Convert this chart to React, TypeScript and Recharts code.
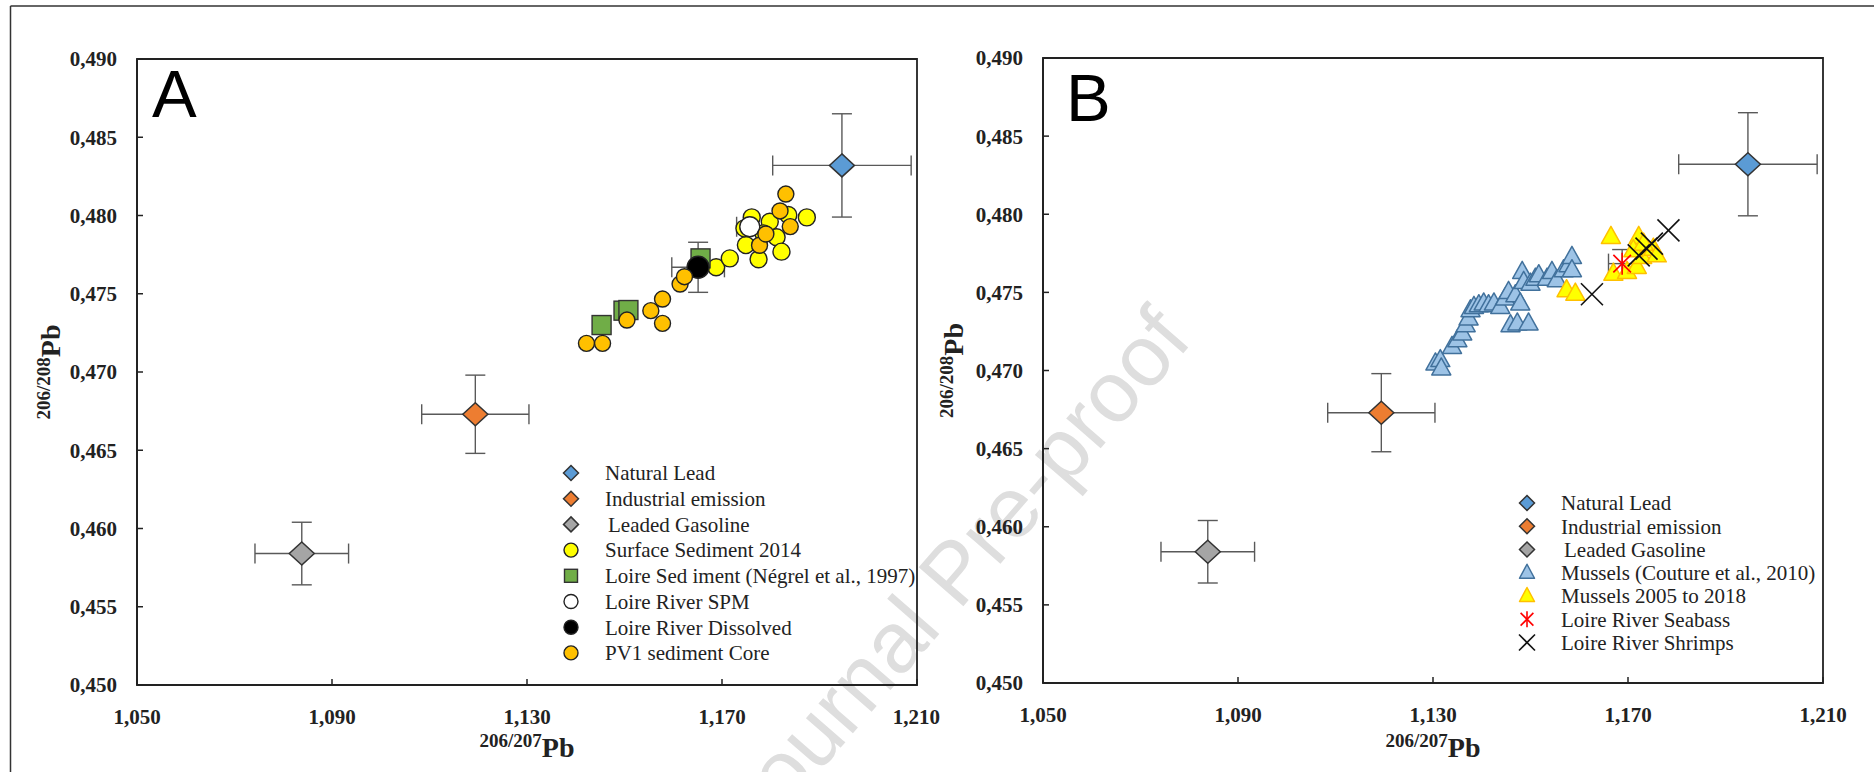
import React from "react";
import {
  ErrorBar,
  Legend,
  ReferenceArea,
  Scatter,
  ScatterChart,
  XAxis,
  YAxis,
} from "recharts";

/* -------------------------------------------------------------------------- */
/*  Data                                                                       */
/* -------------------------------------------------------------------------- */

type Pt = { x: number; y: number; ex?: number; ey?: number };

const X_TICKS = [1.05, 1.09, 1.13, 1.17, 1.21];
const Y_TICKS = [0.45, 0.455, 0.46, 0.465, 0.47, 0.475, 0.48, 0.485, 0.49];

// end-members (shared by both panels)
const naturalLead: Pt[] = [{ x: 1.1946, y: 0.4832, ex: 0.0142, ey: 0.0033 }];
const industrialEmission: Pt[] = [{ x: 1.1194, y: 0.4673, ex: 0.011, ey: 0.0025 }];
const leadedGasoline: Pt[] = [{ x: 1.0838, y: 0.4584, ex: 0.0096, ey: 0.002 }];

// panel A
const surfaceSediment2014: Pt[] = [
  { x: 1.1688, y: 0.47669 },
  { x: 1.1716, y: 0.47726 },
  { x: 1.1749, y: 0.47811 },
  { x: 1.1761, y: 0.47988 },
  { x: 1.1746, y: 0.47918 },
  { x: 1.1798, y: 0.4796 },
  { x: 1.1812, y: 0.47861 },
  { x: 1.1775, y: 0.4772 },
  { x: 1.1822, y: 0.47769 },
  { x: 1.1836, y: 0.48003 },
  { x: 1.1874, y: 0.47988 },
  { x: 1.1785, y: 0.47886 },
];

const loireSediment: Pt[] = [
  { x: 1.1453, y: 0.473 },
  { x: 1.1498, y: 0.47392 },
  { x: 1.1508, y: 0.47396 },
  { x: 1.1656, y: 0.47726 },
];

const loireSpm: Pt[] = [{ x: 1.1757, y: 0.47928, ex: 0.0027, ey: 0 }];
const loireDissolved: Pt[] = [{ x: 1.1651, y: 0.47669, ex: 0.0054, ey: 0.0016 }];

const pv1Core: Pt[] = [
  { x: 1.1422, y: 0.47183 },
  { x: 1.1455, y: 0.47183 },
  { x: 1.1505, y: 0.47332 },
  { x: 1.1554, y: 0.47392 },
  { x: 1.1578, y: 0.47466 },
  { x: 1.1578, y: 0.47311 },
  { x: 1.1614, y: 0.47562 },
  { x: 1.1623, y: 0.47609 },
  { x: 1.1777, y: 0.4781 },
  { x: 1.179, y: 0.47882 },
  { x: 1.1819, y: 0.48029 },
  { x: 1.1831, y: 0.48137 },
  { x: 1.184, y: 0.47929 },
];

// panel B
const musselsCouture: Pt[] = [
  { x: 1.1305, y: 0.47045 },
  { x: 1.1315, y: 0.47067 },
  { x: 1.1317, y: 0.47013 },
  { x: 1.1339, y: 0.47151 },
  { x: 1.135, y: 0.47194 },
  { x: 1.136, y: 0.47237 },
  { x: 1.1367, y: 0.4729 },
  { x: 1.1373, y: 0.47333 },
  { x: 1.1377, y: 0.47386 },
  { x: 1.1384, y: 0.47407 },
  { x: 1.1394, y: 0.47418 },
  { x: 1.1404, y: 0.47429 },
  { x: 1.1414, y: 0.47418 },
  { x: 1.1425, y: 0.47429 },
  { x: 1.1438, y: 0.47407 },
  { x: 1.1448, y: 0.47461 },
  { x: 1.1455, y: 0.47503 },
  { x: 1.1459, y: 0.4729 },
  { x: 1.1469, y: 0.47482 },
  { x: 1.1473, y: 0.47301 },
  { x: 1.1479, y: 0.47429 },
  { x: 1.1483, y: 0.47631 },
  { x: 1.1486, y: 0.47567 },
  { x: 1.1496, y: 0.47301 },
  { x: 1.15, y: 0.47556 },
  { x: 1.151, y: 0.47588 },
  { x: 1.1517, y: 0.4761 },
  { x: 1.1534, y: 0.47588 },
  { x: 1.1544, y: 0.47631 },
  { x: 1.1554, y: 0.47578 },
  { x: 1.1568, y: 0.47642 },
  { x: 1.1578, y: 0.47674 },
  { x: 1.1585, y: 0.47727 },
  { x: 1.1585, y: 0.47642 },
];

const mussels2005to2018: Pt[] = [
  { x: 1.1574, y: 0.47514 },
  { x: 1.1592, y: 0.47492 },
  { x: 1.1665, y: 0.47855 },
  { x: 1.167, y: 0.4762 },
  { x: 1.1698, y: 0.47631 },
  { x: 1.1722, y: 0.47855 },
  { x: 1.1718, y: 0.47663 },
  { x: 1.1729, y: 0.47727 },
  { x: 1.1752, y: 0.4778 },
  { x: 1.1759, y: 0.47737 },
  { x: 1.1711, y: 0.4777 },
  { x: 1.1732, y: 0.47812 },
];

const loireSeabass: Pt[] = [{ x: 1.1688, y: 0.47684, ex: 0.0028, ey: 0.0009 }];

const loireShrimps: Pt[] = [
  { x: 1.1626, y: 0.47488 },
  { x: 1.1722, y: 0.47737 },
  { x: 1.1738, y: 0.4778 },
  { x: 1.1749, y: 0.47812 },
  { x: 1.1783, y: 0.47897 },
];

/* -------------------------------------------------------------------------- */
/*  Marker shapes                                                              */
/* -------------------------------------------------------------------------- */

const SERIF = '"Liberation Serif", "Times New Roman", serif';
const SANS = '"Liberation Sans", Arial, sans-serif';
const INK = "#222";

type Marker = (cx: number, cy: number, small?: boolean) => React.ReactElement;

const diamond = (fill: string): Marker => (cx, cy, small) => {
  const r = small ? 7.5 : 12.5;
  const ry = small ? 7.5 : 11.5;
  return (
    <polygon
      points={`${cx},${cy - ry} ${cx + r},${cy} ${cx},${cy + ry} ${cx - r},${cy}`}
      fill={fill}
      stroke="#333"
      strokeWidth={1.5}
    />
  );
};

const circle = (fill: string, r: number): Marker => (cx, cy, small) => (
  <circle cx={cx} cy={cy} r={small ? 7 : r} fill={fill} stroke={INK} strokeWidth={1.4} />
);

const square = (fill: string): Marker => (cx, cy, small) => {
  const h = small ? 6.5 : 9.5;
  return (
    <rect x={cx - h} y={cy - h} width={2 * h} height={2 * h} fill={fill} stroke="#333" strokeWidth={1.4} />
  );
};

const triangle = (fill: string, stroke: string): Marker => (cx, cy, small) => {
  const w = small ? 7.5 : 9.5;
  const t = small ? 8.5 : 10.5;
  const b = small ? 5.5 : 6.5;
  return (
    <polygon
      points={`${cx},${cy - t} ${cx + w},${cy + b} ${cx - w},${cy + b}`}
      fill={fill}
      stroke={stroke}
      strokeWidth={1.5}
      strokeLinejoin="round"
    />
  );
};

const cross: Marker = (cx, cy, small) => {
  const h = small ? 8 : 11;
  return (
    <g stroke="#111" strokeWidth={1.6}>
      <line x1={cx - h} y1={cy - h} x2={cx + h} y2={cy + h} />
      <line x1={cx - h} y1={cy + h} x2={cx + h} y2={cy - h} />
    </g>
  );
};

const asterisk: Marker = (cx, cy, small) => {
  const h = small ? 8 : 11;
  const d = h * 0.8;
  return (
    <g stroke="#ff0000" strokeWidth={1.6}>
      <line x1={cx} y1={cy - h} x2={cx} y2={cy + h} />
      <line x1={cx - d} y1={cy - d} x2={cx + d} y2={cy + d} />
      <line x1={cx - d} y1={cy + d} x2={cx + d} y2={cy - d} />
    </g>
  );
};

type Series = {
  name: string;
  data: Pt[];
  marker: Marker;
  indent?: number;
};

const endMembers: Series[] = [
  { name: "Natural Lead", data: naturalLead, marker: diamond("#5b9bd5") },
  { name: "Industrial emission", data: industrialEmission, marker: diamond("#ed7d31") },
  { name: " Leaded Gasoline", data: leadedGasoline, marker: diamond("#a5a5a5"), indent: 3 },
];

const panelA: Series[] = [
  ...endMembers,
  { name: "Surface Sediment 2014", data: surfaceSediment2014, marker: circle("#ffff00", 8.5) },
  { name: "Loire Sed iment (Négrel et al., 1997)", data: loireSediment, marker: square("#70ad47") },
  { name: "Loire River SPM", data: loireSpm, marker: circle("#ffffff", 10) },
  { name: "Loire River Dissolved", data: loireDissolved, marker: circle("#000000", 11) },
  { name: "PV1 sediment Core", data: pv1Core, marker: circle("#ffc000", 8) },
];

const panelB: Series[] = [
  ...endMembers,
  { name: "Mussels (Couture et al., 2010)", data: musselsCouture, marker: triangle("#9dc3e6", "#41719c") },
  { name: "Mussels 2005 to 2018", data: mussels2005to2018, marker: triangle("#ffff00", "#ffc000") },
  { name: "Loire River Seabass", data: loireSeabass, marker: asterisk },
  { name: "Loire River Shrimps", data: loireShrimps, marker: cross },
];

/* -------------------------------------------------------------------------- */
/*  Panel                                                                      */
/* -------------------------------------------------------------------------- */

const fmt = (v: number) => v.toFixed(3).replace(".", ",");

function LegendBox({
  series,
  markerX,
  textX,
  firstY,
  step,
}: {
  series: Series[];
  markerX: number;
  textX: number;
  firstY: number;
  step: number;
}) {
  return (
    <svg width={360} height={firstY + step * series.length} style={{ overflow: "visible" }}>
      {series.map((s, i) => {
        const cy = firstY + i * step;
        return (
          <g key={s.name}>
            {s.marker(markerX, cy, true)}
            <text
              x={textX + (s.indent ?? 0)}
              y={cy}
              dy="0.35em"
              fontFamily={SERIF}
              fontSize={21}
              fill={INK}
            >
              {s.name.trim()}
            </text>
          </g>
        );
      })}
    </svg>
  );
}

function Panel({
  letter,
  letterDx,
  letterDy,
  series,
  width,
  margin,
  legendAt,
  legendStep,
  yTitleX,
}: {
  letter: string;
  letterDx: number;
  letterDy: number;
  series: Series[];
  width: number;
  margin: { top: number; right: number; bottom: number; left: number };
  legendAt: { left: number; top: number };
  legendStep: number;
  yTitleX: number;
}) {
  const plotLeft = margin.left + 60;
  const plotRight = width - margin.right;
  const plotTop = margin.top;
  const plotBottom = 772 - margin.bottom - 40;
  const midX = (plotLeft + plotRight) / 2;
  const midY = (plotTop + plotBottom) / 2;

  return (
    <ScatterChart width={width} height={772} margin={margin} style={{ fontFamily: SERIF }}>
      <ReferenceArea
        x1={1.05}
        x2={1.21}
        y1={0.45}
        y2={0.49}
        fill="none"
        fillOpacity={0}
        stroke={INK}
        strokeWidth={1.8}
      />
      <XAxis
        type="number"
        dataKey="x"
        domain={[1.05, 1.21]}
        ticks={X_TICKS}
        tickFormatter={fmt}
        height={40}
        tickSize={-6}
        tickMargin={30}
        allowDataOverflow
        axisLine={{ stroke: INK, strokeWidth: 1.8 }}
        tickLine={{ stroke: INK, strokeWidth: 1.5 }}
        tick={{ fill: INK, fontSize: 21, fontWeight: "bold", fontFamily: SERIF }}
      />
      <YAxis
        type="number"
        dataKey="y"
        domain={[0.45, 0.49]}
        ticks={Y_TICKS}
        tickFormatter={fmt}
        width={60}
        tickSize={-6}
        tickMargin={26}
        allowDataOverflow
        axisLine={{ stroke: INK, strokeWidth: 1.8 }}
        tickLine={{ stroke: INK, strokeWidth: 1.5 }}
        tick={{ fill: INK, fontSize: 21, fontWeight: "bold", fontFamily: SERIF }}
      />
      {series.map((s) => (
        <Scatter
          key={s.name}
          name={s.name}
          data={s.data}
          isAnimationActive={false}
          shape={(p: any) => s.marker(p.cx, p.cy)}
        >
          {s.data[0].ex !== undefined && (
            <ErrorBar dataKey="ex" direction="x" width={10} stroke="#595959" strokeWidth={1.4} />
          )}
          {s.data[0].ey !== undefined && s.data[0].ey > 0 && (
            <ErrorBar dataKey="ey" direction="y" width={10} stroke="#595959" strokeWidth={1.4} />
          )}
        </Scatter>
      ))}
      <Legend
        layout="vertical"
        align="center"
        verticalAlign="middle"
        wrapperStyle={{ left: legendAt.left, top: legendAt.top, width: 360 }}
        content={() => (
          <LegendBox series={series} markerX={20} textX={54} firstY={18} step={legendStep} />
        )}
      />
      <text x={plotLeft + letterDx} y={plotTop + letterDy} fontFamily={SANS} fontSize={67} fill="#000">
        {letter}
      </text>
      <text x={midX} y={757} textAnchor="middle" fontWeight="bold" fill={INK} fontFamily={SERIF}>
        <tspan fontSize={19} dy={-10}>
          206/207
        </tspan>
        <tspan fontSize={28} dy={10}>
          Pb
        </tspan>
      </text>
      <text
        transform={`translate(${yTitleX}, ${midY}) rotate(-90)`}
        textAnchor="middle"
        fontWeight="bold"
        fill={INK}
        fontFamily={SERIF}
      >
        <tspan fontSize={19} dy={-10}>
          206/208
        </tspan>
        <tspan fontSize={28} dy={10}>
          Pb
        </tspan>
      </text>
    </ScatterChart>
  );
}

export default function App() {
  return (
    <div
      style={{
        position: "absolute",
        left: 0,
        top: 0,
        width: 1874,
        height: 772,
        background: "#fff",
        overflow: "hidden",
      }}
    >
      <svg width={1874} height={772} style={{ position: "absolute", left: 0, top: 0 }}>
        <line x1={10.5} y1={6} x2={1874} y2={6} stroke="#333" strokeWidth={1.5} />
        <line x1={10.5} y1={6} x2={10.5} y2={772} stroke="#333" strokeWidth={1.5} />
        <text
          x={1194}
          y={341}
          transform="rotate(-49 1194 341)"
          textAnchor="end"
          fontFamily={SANS}
          fontSize={86}
          fill="#dedede"
        >
          Journal Pre-proof
        </text>
      </svg>
      <div style={{ position: "absolute", left: 0, top: 0 }}>
        <Panel
          letter="A"
          letterDx={15}
          letterDy={58}
          series={panelA}
          width={940}
          margin={{ top: 59, right: 23, bottom: 47, left: 77 }}
          legendAt={{ left: 551, top: 455 }}
          legendStep={25.7}
          yTitleX={60}
        />
      </div>
      <div style={{ position: "absolute", left: 900, top: 0 }}>
        <Panel
          letter="B"
          letterDx={23}
          letterDy={63}
          series={panelB}
          width={974}
          margin={{ top: 58, right: 51, bottom: 49, left: 83 }}
          legendAt={{ left: 607, top: 485 }}
          legendStep={23.25}
          yTitleX={63}
        />
      </div>
    </div>
  );
}
